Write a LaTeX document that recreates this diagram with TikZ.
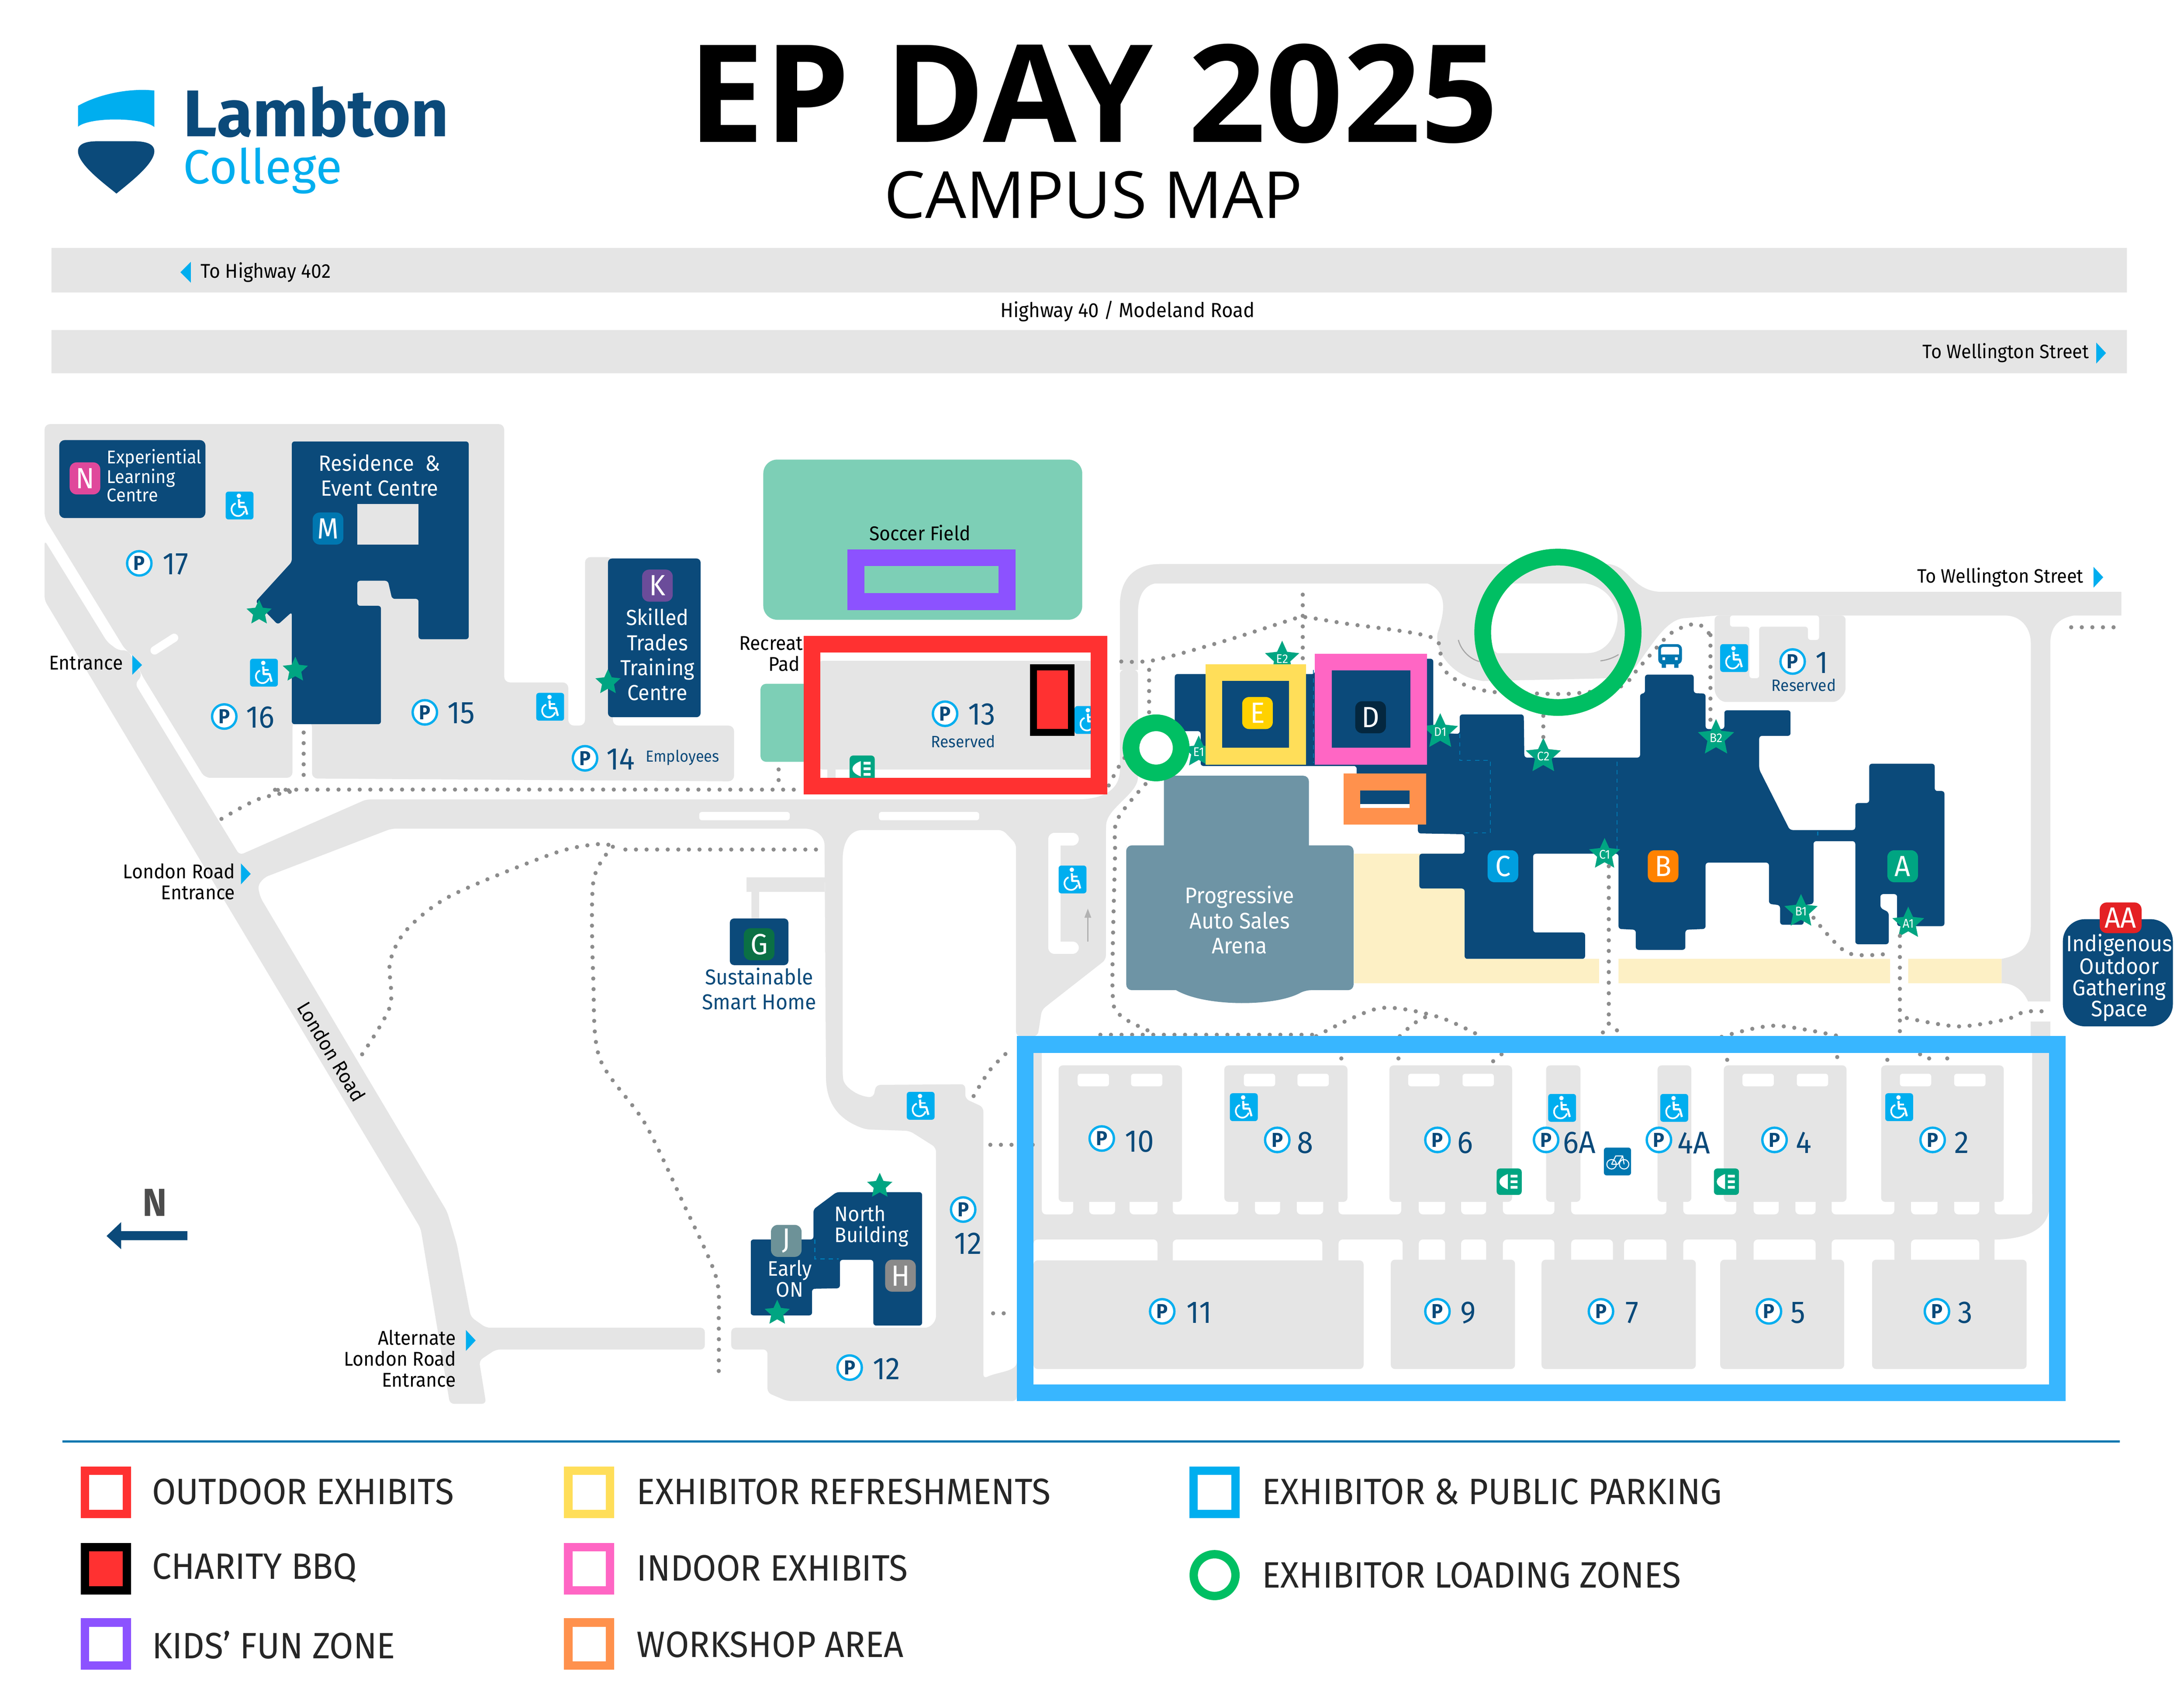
\documentclass[tikz,border=0pt]{standalone}
\usepackage{fontspec}
\setmainfont[FakeStretch=0.94]{Fira Sans}
\newfontfamily\logofont{Fira Sans}
\newfontfamily\titlefont{Open Sans}
\usetikzlibrary{shapes.geometric}
\definecolor{road}{HTML}{E5E5E5}
\definecolor{navy}{HTML}{0B4A7A}
\definecolor{cy}{HTML}{00AEEF}
\definecolor{mblue}{HTML}{0077B0}
\definecolor{sgreen}{HTML}{00A582}
\definecolor{dotc}{HTML}{8C8C8C}
\definecolor{field}{HTML}{7DCFB6}
\definecolor{cream}{HTML}{FDF0C5}
\definecolor{arena}{HTML}{6E94A5}
\definecolor{fred}{HTML}{FF3131}
\definecolor{fpurple}{HTML}{8C52FF}
\definecolor{fyellow}{HTML}{FFDE59}
\definecolor{fpink}{HTML}{FF66C4}
\definecolor{forange}{HTML}{FF914D}
\definecolor{fblue}{HTML}{38B6FF}
\definecolor{fgreen}{HTML}{00BF63}
\definecolor{bC}{HTML}{009FDF}
\definecolor{bB}{HTML}{FF8200}
\definecolor{bE}{HTML}{FFD100}
\definecolor{bD}{HTML}{04273F}
\definecolor{bN}{HTML}{E0489B}
\definecolor{bK}{HTML}{6B4C9A}
\definecolor{bG}{HTML}{0B7044}
\definecolor{bJ}{HTML}{6D9298}
\definecolor{bH}{HTML}{8A8A8A}
\definecolor{bAA}{HTML}{E42124}
\newcommand{\fs}[1]{\fontsize{#1}{#1}\selectfont}
\newcommand{\fsl}[2]{\fontsize{#1}{#2}\selectfont}
\tikzset{
  rd/.style={fill=road},
  lab/.style={inner sep=0pt,font=\fsl{14.3}{15}},
  whitetxt/.style={lab,text=white,align=center},
  navytxt/.style={lab,text=navy,align=center},
  badge/.style={inner sep=0pt,rounded corners=5pt,minimum width=22pt,minimum height=23pt,text=white,font=\fs{21}},
  bldg/.style={fill=navy,rounded corners=2pt},
  dots/.style={draw=dotc,line width=3pt,line cap=round,dash pattern=on 0pt off 7.6pt},
  starb/.style={star,star points=5,star point ratio=2.1,fill=sgreen,inner sep=0pt,minimum size=19pt,text=white,font=\fs{9}},
  pcirc/.style={circle,fill=white,draw=cy,line width=1.7pt,minimum size=17.5pt,inner sep=0pt,text=navy,font=\bfseries\fs{14.5}},
  pnum/.style={inner sep=0pt,text=navy,font=\fs{22.5}},
  pnote/.style={inner sep=0pt,text=navy,font=\fs{11.8}},
  tri/.style={fill=cy},
  frame/.style={draw=#1,line width=12pt,fill=none,line join=miter},
  legbox/.style={draw=#1,line width=6pt,fill=white},
  legt/.style={inner sep=0pt,anchor=west,font=\fs{26.3},text=black!85}
}
\newcommand{\pk}[5]{\node[pcirc] at (#1,#2) {P};\node[pnum] at (#3,#4) {#5};}
\newcommand{\wc}[2]{\begin{scope}[shift={(#1,#2)}]
 \fill[cy,rounded corners=2pt] (-10,-10) rectangle (10,10);
 \fill[white] (-0.5,-7) circle (1.6);
 \draw[white,line width=1.5pt,line join=round] (-0.5,-4.5) -- (-0.2,1) -- (4,1) -- (5.5,6.5);
 \draw[white,line width=1.2pt] (-0.3,-2) -- (3.5,-2);
 \draw[white,line width=1.2pt] (-2.8,-1.5) .. controls (-7.5,0) and (-6.5,7.5) .. (-1,7.5) .. controls (1.5,7.5) and (3,5.5) .. (3.5,4);
\end{scope}}
\newcommand{\ex}[2]{\begin{scope}[shift={(#1,#2)}]
 \fill[sgreen,rounded corners=2.5pt] (-9,-9.5) rectangle (9,9.5);
 \fill[white] (-1,-5.5) .. controls (-5,-4) and (-7,-2) .. (-7,0) .. controls (-7,2) and (-5,4) .. (-1,5.5) -- cycle;
 \fill[white] (1,-5) rectangle (6,-3) (1,-1) rectangle (6,1) (1,3) rectangle (6,5);
\end{scope}}
\begin{document}
\begin{tikzpicture}[x=1pt,y=-1pt]
\useasboundingbox (0,0) rectangle (1568,1211.8);
\fill[white] (0,0) rectangle (1568,1211.8);
% logo
\fill[cy] (56,91) .. controls (64,84) and (102,84) .. (110.8,91.2) -- (110.8,65) .. controls (92,63) and (70,68) .. (56,76) -- cycle;
\fill[navy] (56,108.6) .. controls (56,103) and (62,101.4) .. (70.7,101.4) -- (95.6,101.4) .. controls (104,101.4) and (110.8,103) .. (110.8,108.6) .. controls (110.8,118) and (92,132) .. (83.6,139) .. controls (75,132) and (56,118) .. (56,108.6) -- cycle;
\node[inner sep=0pt,anchor=base west,text=navy,font=\logofont\bfseries\fs{47.4}] (lambton) at (131.5,98) {Lambton};
\node[inner sep=0pt,anchor=base west,text=cy,font=\logofont\fs{34.5}] (college) at (131.5,132) {College};
% title
\node[inner sep=0pt,anchor=base,font=\titlefont\bfseries\fs{97.5}] (title) at (785,102) {EP DAY 2025};
\node[inner sep=0pt,anchor=base,font=\titlefont\fs{46.6}] (sub) at (785,156.5) {CAMPUS MAP};
% highway
\fill[rd] (37,178) rectangle (1527,210) (37,237) rectangle (1527,268);
\node[lab,anchor=west] (h1) at (144,195.5) {To Highway 402};
\fill[tri] (137,188) -- (137,203) -- (129.5,195.5) -- cycle;
\node[lab,font=\fs{14.6}] (h2) at (809.5,223.5) {Highway 40 / Modeland Road};
\node[lab,anchor=east,font=\fs{13.9}] (h3) at (1500,253.5) {To Wellington Street};
\fill[tri] (1505,246) -- (1505,261) -- (1512,253.5) -- cycle;
\node[lab,anchor=east,font=\fs{13.9}] (h4) at (1496,414.5) {To Wellington Street};
\fill[tri] (1503,407) -- (1503,422) -- (1510,414.5) -- cycle;
% west lot
\fill[rd,rounded corners=4pt] (32,304.5) -- (362,304.5) -- (362,490) -- (408,490) -- (408,521) -- (420,521) -- (420,400) -- (440,400) -- (440,521) -- (527,521) -- (527,561) -- (224,559) -- (224,518) -- (210,518) -- (210,558.5) -- (147,558.5) -- (102,485) -- (95,470) -- (90,466.7) -- (32,372) -- cycle;
% london road
\fill[rd,rounded corners=3pt] (32,388) -- (77,461) -- (85,467) -- (92,467) -- (102,485) -- (97,491) -- (172,614) -- (263,574) -- (770,574)
  .. controls (795,574) and (804,565) .. (804,550) -- (804,481) -- (817,481) -- (817,555) .. controls (817,570) and (795,580) .. (794,595)
  -- (794,689) -- (748,725) -- (745,744) -- (729.5,744) -- (729.5,606) -- (720,596) -- (622,596)
  .. controls (610,596) and (605,605) .. (605,620) -- (605,772) .. controls (606,780) and (615,787) .. (627,788) -- (629,779) -- (693,778.5) -- (693,789) -- (706,795)
  -- (706,990) .. controls (716,985) and (730,985) .. (730,975) -- (730,1006) -- (565,1006) -- (551,1000) -- (551,969) -- (525,969) -- (525,953.4) -- (667,953.4) -- (672,948) -- (672,824) -- (653,812) -- (622,811)
  .. controls (605,805) and (593,795) .. (593,770) -- (592,610) .. controls (592,600) and (585,595) .. (575,595) -- (281,595) -- (189.8,630) -- (185,636) -- (187,644.5) -- (321,870) -- (328,893.5) -- (338,945.6) -- (349,953.4) -- (506,953.4) -- (506,969) -- (356,969) -- (344,977) -- (349,1008) -- (323,1008) -- (302,882) -- (32,431) -- cycle;
% north loop road
\fill[rd,even odd rule] (804,481) -- (804,435) .. controls (804,415) and (815,405) .. (833,405) -- (1155,405) .. controls (1170,407) and (1172,424) .. (1192,425) -- (1523,425) -- (1523,442) -- (1488.6,442) .. controls (1478,444) and (1472,450) .. (1472,462) -- (1472,719) -- (1456,719) .. controls (1452,710) and (1445,706) .. (1437,706) -- (1437,688.5) .. controls (1450,686) and (1458,680) .. (1458,665) -- (1458,462) .. controls (1458,450) and (1450,442) .. (1440,442) -- (1232,442) -- (1208,444) .. controls (1195,446) and (1185,465) .. (1174,479) .. controls (1170,484) and (1160,487) .. (1156,487) -- (1065,489) .. controls (1045,487) and (1030,470) .. (1032,455) .. controls (1037,440) and (1040,425) .. (1025,419) -- (829,419) .. controls (820,421) and (817,430) .. (817,440) -- (817,481) -- cycle;
\fill[white] (1080,419) -- (1138,419) .. controls (1155,421) and (1163,437) .. (1161,447) .. controls (1159,460) and (1151,469) .. (1139,469) -- (1075,469) .. controls (1065,462) and (1060,440) .. (1080,419) -- cycle;
\draw[black!35,line width=.8pt] (1047,459.5) .. controls (1049,467) and (1055,473) .. (1062,475);
\draw[black!35,line width=.8pt] (1149,474.5) .. controls (1154,474) and (1159,472) .. (1162,470);
% lot 1
\fill[rd,rounded corners=3pt] (1231,442) -- (1325,442) -- (1325,497) -- (1319,504) -- (1236,504) -- (1231,498) -- cycle;
\fill[white,rounded corners=2pt] (1242,442) -- (1306,442) -- (1306,459.5) -- (1298,459.5) -- (1298,450) -- (1263,450) -- (1263,487) -- (1256,487) -- (1256,450) -- (1242,450) -- cycle;
% dashes on roads
\draw[white,line width=6pt,line cap=round] (111,467) -- (125,458);
\fill[white,rounded corners=2pt] (502,583) rectangle (567,589) (631,583) rectangle (703,589);
% G approach
\fill[rd] (536,630) rectangle (592,640.4) (539.5,640) rectangle (545,660);
% white island
\draw[white,line width=9pt,line join=round,line cap=round] (770,602.5) -- (757,602.5) -- (757,680.5) -- (770,680.5);
% right strip
\fill[rd] (1458,733.6) rectangle (1472,750);
% parking band
\fill[rd] (742,745) rectangle (748,870);
\fill[rd] (742,863) -- (1459,863) -- (1459,745) -- (1471,745) -- (1471,870) .. controls (1468,885) and (1450,890) .. (1432,890) -- (1432,905) -- (742,905) -- cycle;
\foreach \a/\b in {748/770.5,782/800.6,811/831,842/889,901/919,931/950,961/1006,1018.6/1037.5,1049/1067,1079/1116,1128/1196.4,1208.5/1246.5,1259/1277,1289/1303.5,1315/1360,1372/1391,1403/1421,1432/1459}
  \fill[white,rounded corners=3pt] (\a,855) rectangle (\b,872);
\foreach \a/\b in {742/831,842/949.4,961/1007,1018.6/1037.5,1049/1067,1079/1116,1128/1158,1166/1196.4,1208.5/1246.5,1259/1303.5,1315/1360,1372/1421,1432/1458}
  \fill[white,rounded corners=3pt] (\a,890) rectangle (\b,915);
% parking lots
\tikzset{lotf/.style={fill=road,rounded corners=3pt}}
\fill[lotf] (760,765) rectangle (848.6,863);
\fill[lotf] (879,765) rectangle (967.4,863);
\fill[lotf] (997.5,765) rectangle (1085.6,863);
\fill[lotf] (1110,765) rectangle (1134.7,863);
\fill[lotf] (1190,765) rectangle (1214.3,863);
\fill[lotf] (1237.6,765) rectangle (1325.7,863);
\fill[lotf] (1350.5,765) rectangle (1438.6,863);
\fill[rd] (742,905) -- (975,905) [rounded corners=3pt] -- (979,905) -- (979,983) -- (742,983) -- cycle;
\fill[lotf] (998.5,904.5) rectangle (1087.7,983);
\fill[lotf] (1106.7,904.5) rectangle (1217.5,983);
\fill[lotf] (1235,904.5) rectangle (1324,983);
\fill[lotf] (1344,904.5) rectangle (1455,983);
\foreach \a in {773.7,812,893,931.5,1011,1050,1251,1290,1364,1403}
  \fill[white,rounded corners=2pt] (\a,771) rectangle (\a+22.5,780);
% fields
\fill[field,rounded corners=10pt] (548,330) rectangle (777,445);
\fill[field,rounded corners=4pt] (546,491) rectangle (590,547);
% lot 13
\fill[rd,rounded corners=3pt] (587.5,474.5) rectangle (792,552.5);
\fill[rd] (594,552) rectangle (600,560);
\draw[dots] (559,552.5) -- (559,561);
% cream
\fill[cream] (972,613) rectangle (1053,706) (1053,688.5) rectangle (1148,706) (1162,688.5) rectangle (1357,706) (1370,688.5) rectangle (1437,706);
% arena
\fill[arena,rounded corners=4pt] (835.6,557) rectangle (939.7,620);
\fill[arena] (808.6,611) [rounded corners=4pt] -- (808.6,607) -- (971.8,607) -- (971.8,711) -- (937,711) [sharp corners] .. controls (915,723) and (865,723) .. (844.4,711) [rounded corners=4pt] -- (808.6,711) -- cycle;
\node[whitetxt,font=\fsl{16.2}{18}] (arenat) at (890,660.5) {Progressive\\Auto Sales\\Arena};
% main complex
\fill[bldg] (843.4,484) -- (944,484) -- (944,473) -- (1029,473) -- (1029,526) -- (1048,527) -- (1048,513) -- (1094,513) -- (1094.4,544) -- (1177.5,544) -- (1177.5,498) -- (1181,498) -- (1181,484.4) -- (1216,484.4) -- (1216,497.7) -- (1224.5,498) -- (1224.5,523.5) -- (1238,523.5) -- (1238,510) -- (1285.5,510) -- (1285.5,528.4) -- (1263,528.4) -- (1263,552.5) -- (1285,596) -- (1332,596) -- (1332,576.6) -- (1342,576.6) -- (1342,548.4) -- (1389,548.4) -- (1389,568) -- (1396,568) -- (1396,665) -- (1362,665) -- (1362,642) -- (1350,642) -- (1350,652) -- (1356,655) -- (1356,678) -- (1332,678) -- (1332,604) -- (1302,604) -- (1302,649) -- (1295,650) -- (1295,664) -- (1278,664) -- (1278,650) -- (1270,649) -- (1270,619.4) -- (1224.5,619.4) -- (1224.5,667) -- (1210,667.6) -- (1210,682) -- (1174.4,682) -- (1174.4,667.6) -- (1162,667) -- (1162,613) -- (1100.7,613) -- (1100.7,669.6) -- (1138,669.6) -- (1138,688.5) -- (1051.5,688.5) -- (1051.5,638) -- (1019,638) -- (1019,613) -- (1051.5,613) -- (1051.5,599) -- (1018,598.4) -- (1018,577.4) -- (974,577.4) -- (974,550) -- (862,550) -- (862,525) -- (843.4,525) -- cycle;
\draw[mblue,line width=.8pt,dashed] (1048,527) -- (1048,546) -- (1070,546) -- (1070,598) -- (1051.5,598);
\draw[mblue,line width=.8pt,dashed] (1161,547) -- (1161,613);
\draw[mblue,line width=.8pt,dashed] (1305,597) -- (1305,603);
\draw[mblue,line width=.8pt,dashed] (943,481) -- (943,548);
\fill[white] (977,577.4) rectangle (1013,580.3);
\node[badge,fill=bC] (bc) at (1079,622) {C};
\node[badge,fill=bB] (bb) at (1194,622) {B};
\node[badge,fill=sgreen] (ba) at (1366,622) {A};
\node[badge,fill=bE] (be) at (902.8,512) {E};
\node[badge,fill=bD] (bd) at (984,515) {D};
% stars labelled
\node[starb] (e1) at (860.6,540) {E1};
\node[starb] (e2) at (920.5,473) {E2};
\node[starb] (d1) at (1034,525.5) {D1};
\node[starb] (c2) at (1108,543) {C2};
\node[starb] (b2) at (1232,530) {B2};
\node[starb] (c1) at (1152,613.5) {C1};
\node[starb] (b1) at (1293,654.5) {B1};
\node[starb] (a1) at (1370,663) {A1};
% west buildings
\fill[bldg,rounded corners=4pt] (42.5,316) rectangle (147.5,372);
\node[badge,fill=bN] (bn) at (61,343.5) {N};
\node[lab,text=white,align=left,anchor=west,font=\fsl{13.3}{12}] (nt) at (76.6,341.5) {Experiential\\Learning\\Centre};
\fill[bldg] (209.5,317) -- (336.5,317) -- (336.5,459) -- (300.5,459) -- (300.5,430) -- (281.5,430) -- (278.5,417) -- (256.5,417) -- (256.5,435) -- (273.5,435) -- (273.5,520) -- (209.5,520) -- (209.5,439.5) -- (199.5,448.5) -- (183.5,432) -- (209.5,403.5) -- cycle;
\fill[road] (256.5,362) rectangle (300.5,391);
\node[whitetxt,font=\fsl{15.8}{18}] (ret) at (272.5,341) {Residence\ \ \&\\Event Centre};
\node[badge,fill=mblue] (bm) at (235.5,379.5) {M};
\node[starb] (s1) at (186,440) {};
\node[starb] (s2) at (212,481) {};
\fill[bldg,rounded corners=3pt] (436.5,401) rectangle (503,515);
\node[badge,fill=bK] (bk) at (472,420.5) {K};
\node[whitetxt,font=\fsl{15.6}{18}] (kt) at (472,470) {Skilled\\Trades\\Training\\Centre};
\node[starb] (s3) at (436.5,490) {};
% G
\fill[bldg,rounded corners=3pt] (524,659.5) rectangle (566,693);
\node[badge,fill=bG] (bg) at (545,678) {G};
\node[navytxt,font=\fsl{15.5}{18}] (gt) at (545,710) {Sustainable\\Smart Home};
% north building
\fill[bldg] (584,868.4) -- (600.6,856) -- (662,856) -- (662,951.8) -- (627,951.8) -- (627,904.6) -- (603,904.6) -- (603,925) -- (583,925.4) -- (583,944.5) -- (539,944.5) -- (539,890) -- (584,890) -- cycle;
\draw[mblue,line width=.8pt,dashed] (585,890) -- (585,904) -- (602,904);
\node[badge,fill=bJ] (bj) at (564.5,891) {J};
\node[badge,fill=bH] (bh) at (646.5,916) {H};
\node[whitetxt,font=\fsl{15.1}{15},align=left,anchor=west] (nbt) at (599,880.5) {North\\Building};
\node[whitetxt,font=\fsl{15.1}{15}] (eat) at (567,918) {Early\\ON};
\node[starb] (s4) at (631.6,851.6) {};
\node[starb] (s5) at (558,942.8) {};
% parking icons
\pk{100}{404.5}{126}{405}{17}
\pk{161}{514.5}{187}{515}{16}
\pk{305}{511.5}{331}{512}{15}
\pk{420}{544.5}{445.5}{545}{14}
\node[pnote,font=\fs{11.5}] (emp) at (490,544) {Employees};
\pk{678.5}{512.5}{705}{513}{13}
\node[pnote] (r13) at (691.5,532.5) {Reserved};
\pk{1287}{475}{1308}{476}{1}
\node[pnote] (r1) at (1295,492) {Reserved};
\pk{791}{817.5}{818}{819.5}{10}
\pk{917}{818.5}{937}{820.5}{8}
\pk{1032}{818.5}{1052}{820.5}{6}
\pk{1110}{818.5}{1134}{820.5}{6A}
\pk{1191}{818.5}{1216}{820.5}{4A}
\pk{1274}{818.5}{1295}{820.5}{4}
\pk{1387.5}{818.5}{1408.5}{820.5}{2}
\pk{834.4}{941.6}{861}{942.6}{11}
\pk{1032}{941.6}{1054}{942.6}{9}
\pk{1149.4}{941.6}{1171.6}{942.6}{7}
\pk{1270}{941.6}{1291}{942.6}{5}
\pk{1390.6}{941.6}{1411}{942.6}{3}
\pk{691.5}{868.5}{695}{893}{12}
\pk{610}{982}{636.5}{983}{12}
% wheelchair icons
\wc{172}{363}
\wc{189.5}{483}
\wc{395}{507.5}
\wc{1245}{472.5}
\wc{661}{794}
\wc{770}{631.5}
\wc{781.5}{517}
\wc{893}{795}
\wc{1121.5}{795.5}
\wc{1202}{795.5}
\wc{1363.5}{795}
% exits
\ex{619}{552}
\ex{1083.5}{848.5}
\ex{1239.5}{848.5}
% bus
\fill[white,draw=mblue,line width=2pt,rounded corners=2.5pt] (1191.5,463.5) rectangle (1206.5,476);
\fill[mblue] (1191.5,470) rectangle (1206.5,476) (1193,476) rectangle (1196,479.5) (1202,476) rectangle (1205,479.5);
\fill[white] (1193.5,472) rectangle (1195.5,474) (1202.5,472) rectangle (1204.5,474);
% bike
\fill[mblue,rounded corners=2pt] (1151.5,824) rectangle (1171,844);
\draw[white,line width=.7pt] (1157,836) circle (3.4) (1166,836) circle (3.4) (1157,836) -- (1160,830) -- (1165,830) -- (1166,836) (1157,836) -- (1161.5,836) -- (1165,830);
% small arrow
\draw[black!30,line width=1pt] (781,676) -- (781,658);
\fill[black!30] (778.5,659) -- (783.5,659) -- (781,652.5) -- cycle;
% dotted paths
\draw[dots] (218,526) -- (218,560);
\draw[dots] plot[smooth] coordinates {(159,588) (185,574) (211,568) (218,567) (577,567)};
\draw[dots] plot[smooth] coordinates {(260,757) (280,722.6) (280,691) (292,667.6) (324,643) (398,612.6) (430.6,606) (440,608)};
\draw[dots] (449,610) -- (586,610);
\draw[dots] plot[smooth] coordinates {(440,608) (426,633) (426,705) (430.6,760) (463,806.6) (490.8,864.5) (514,916.6) (516,951) (516,986)};
\draw[dots] plot[smooth] coordinates {(699,787) (711,768) (727,752)};
\draw[dots] (711,822) -- (747,822);
\draw[dots] (713,943) -- (724,943);
\draw[dots] plot[smooth] coordinates {(805,475) (829,474) (880,460) (927,445) (935.6,443) (964.4,447.5) (1028.6,458) (1035,479) (1052,492) (1073.4,497) (1104.6,498) (1129,498) (1163.4,493) (1177,479) (1198,456) (1212,449) (1220.5,448.7) (1228,456)};
\draw[dots] (1228,456) -- (1228,518);
\draw[dots] (935.3,427) -- (935.3,476);
\draw[dots] (1108,514) -- (1108,532);
\draw[dots] (825,481) -- (825,518);
\draw[dots] plot[smooth] coordinates {(796,564) (806,546) (820,530)};
\draw[dots] plot[smooth] coordinates {(822.4,563) (802,589) (800.5,616.5) (798.8,713) (805.5,730) (829,742)};
\draw[dots] (790,743) -- (945,743);
\draw[dots] plot[smooth] coordinates {(945,744) (990,724) (1032,730) (1063,744)};
\draw[dots] plot[smooth] coordinates {(1005,744) (1015,735) (1026,729)};
\draw[dots] (1155,622) -- (1155,735);
\draw[dots] plot[smooth] coordinates {(1155,735) (1149,744)};
\draw[dots] plot[smooth] coordinates {(1155,735) (1166,744)};
\draw[dots] plot[smooth] coordinates {(1236,744.5) (1274,736.5) (1322.6,744.5)};
\draw[dots] (1364,672) -- (1364,744);
\draw[dots] plot[smooth] coordinates {(1369,731) (1405.6,737) (1440,732) (1454,726.4) (1472,726.4)};
\draw[dots] plot[smooth] coordinates {(1302,659) (1326,684) (1354,685)};
\draw[dots] (1487,450.4) -- (1522,450.4);
\foreach \x/\y in {963/760,1004/760,1072/762,1078/757,1240/761,1319/759,1355/761,1378.5/757,1385/760,1398/760}
  \fill[dotc] (\x,\y) circle (1.5);
% AA
\fill[navy,rounded corners=16pt] (1481,660) rectangle (1560,737);
\node[badge,fill=bAA,minimum width=30pt,minimum height=22pt,font=\fs{21}] (baa) at (1522.5,659) {AA};
\node[whitetxt,font=\fsl{16.1}{15.2}] (aat) at (1521.5,702) {Indigenous\\Outdoor\\Gathering\\Space};
% labels
\node[lab] (soc) at (660.5,382.5) {Soccer Field};
\node[lab,anchor=west] (rec) at (530.5,462) {Recreat};
\node[lab] (pad) at (563,476.5) {Pad};
\node[lab,anchor=east] (ent) at (88.5,476) {Entrance};
\fill[tri] (95,470.5) -- (95,484.5) -- (102,477.5) -- cycle;
\node[lab,align=right,anchor=east] (lre) at (169,633) {London Road\\Entrance};
\fill[tri] (173,620) -- (173,635) -- (180,627.5) -- cycle;
\node[lab,rotate=-59] (lr) at (238,755) {London Road};
\node[lab,align=right,anchor=east] (alt) at (327.5,975.5) {Alternate\\London Road\\Entrance};
\fill[tri] (334.5,955) -- (334.5,970) -- (341.5,962.5) -- cycle;
% north arrow
\node[inner sep=0pt,font=\bfseries\fs{28},text=black!70] (nn) at (111,863.5) {N};
\fill[navy] (134.5,884) -- (87,884) -- (87,877.5) -- (76.5,887.5) -- (87,897) -- (87,890.5) -- (134.5,890.5) -- cycle;
% highlight frames
\draw[frame=fpurple] (614.5,400.5) rectangle (723,432);
\draw[frame=fred] (583,462.5) rectangle (789,564.5);
\fill[black] (739.6,477) rectangle (771.4,528.3);
\fill[fred] (744.4,481.5) rectangle (766.7,523.5);
\draw[frame=fyellow] (871.5,483) rectangle (931.5,543);
\draw[frame=fpink] (950,475.5) rectangle (1018.5,543);
\draw[frame=forange] (970.5,561.5) rectangle (1018,586);
\draw[fgreen,line width=12pt] (830,537) circle (18);
\draw[fgreen,line width=12pt] (1118.5,454) circle (54);
\draw[frame=fblue] (736,750) rectangle (1477,1000);
% legend
\draw[mblue,line width=1.6pt] (45,1035) -- (1522,1035);
\draw[legbox=fred] (61,1056) rectangle (91,1087);
\node[legt] (l1) at (109,1071) {OUTDOOR EXHIBITS};
\draw[draw=black,line width=6pt,fill=fred] (61,1111) rectangle (91,1142);
\node[legt] (l2) at (109,1126) {CHARITY BBQ};
\draw[legbox=fpurple] (61,1165) rectangle (91,1196);
\node[legt] (l3) at (109,1181) {KIDS’ FUN ZONE};
\draw[legbox=fyellow] (408,1056) rectangle (438,1087);
\node[legt] (l4) at (457,1071) {EXHIBITOR REFRESHMENTS};
\draw[legbox=fpink] (408,1111) rectangle (438,1142);
\node[legt] (l5) at (457,1126) {INDOOR EXHIBITS};
\draw[legbox=forange] (408,1165) rectangle (438,1196);
\node[legt] (l6) at (457,1181) {WORKSHOP AREA};
\draw[legbox=cy] (857,1056) rectangle (887,1087);
\node[legt] (l7) at (906,1071) {EXHIBITOR \& PUBLIC PARKING};
\draw[fgreen,line width=6pt] (872,1131) circle (15);
\node[legt] (l8) at (906,1131) {EXHIBITOR LOADING ZONES};
\end{tikzpicture}
\end{document}
